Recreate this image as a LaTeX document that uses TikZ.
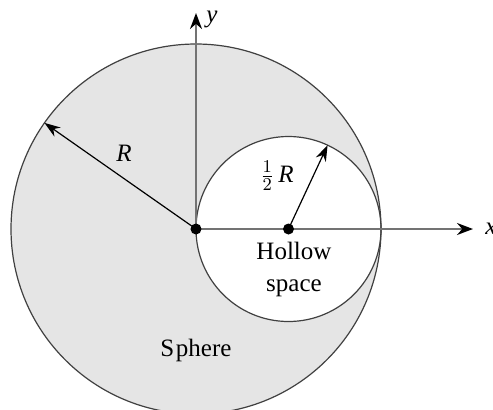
\documentclass[tikz,border=0pt]{standalone}
\usepackage{fontspec}
\setmainfont{Liberation Serif}
\usetikzlibrary{arrows.meta,calc}
\tikzset{
  axis/.style={draw=black!55, line width=1pt, -{Stealth[length=8pt,width=6pt,color=black]}},
  radius arrow/.style={draw=black, line width=0.6pt, -{Stealth[length=8pt,width=5.5pt]}},
  rim/.style={draw=black!75, line width=0.6pt},
  lbl/.style={font=\fontsize{12.5}{16}\selectfont, inner sep=0pt, align=center}
}
\begin{document}
\begin{tikzpicture}[x=5pt,y=5pt]
  \useasboundingbox (-19.6,-18.0) rectangle (29.7,22.9);
  % centres
  \coordinate (O) at (0,0);
  \coordinate (C) at (9.25,0);
  % sphere with hollow space
  \fill[black!10] (O) circle (18.5);
  \fill[white] (C) circle (9.25);
  \draw[rim] (O) circle (18.5);
  \draw[rim] (C) circle (9.25);
  % axes
  \coordinate (xtip) at (27.7,0);
  \coordinate (ytip) at (0,21.6);
  \draw[axis] (O) -- (xtip);
  \draw[axis] (O) -- (ytip);
  \node[lbl, anchor=west] (xl) at (28.9,0) {\textit{x}};
  \node[lbl, anchor=west] (yl) at (1.0,21.0) {\textit{y}};
  % radii
  \coordinate (Rtip) at (145:18.5);
  \coordinate (rtip) at ($(C)+(65:9.25)$);
  \draw[radius arrow] (O) -- (Rtip);
  \draw[radius arrow] (C) -- (rtip);
  \fill (O) circle (0.55);
  \fill (C) circle (0.55);
  % labels
  \node[lbl] (R) at (-7.2,7.6) {\textit{R}};
  \node[lbl] (halfR) at (8.1,5.3) {$\frac{1}{2}$\,\textit{R}};
  \node[lbl] (hollow) at (9.8,-4.0) {Hollow\\space};
  \node[lbl] (sphere) at (0.0,-12.1) {S\kern0.8pt phere};
\end{tikzpicture}
\end{document}
